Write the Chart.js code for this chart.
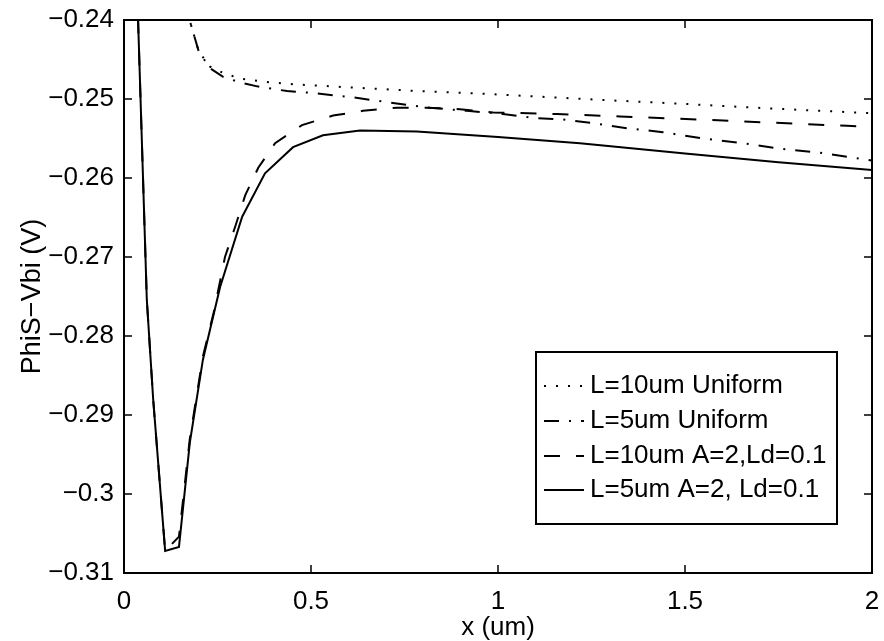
<!DOCTYPE html>
<html>
<head>
<meta charset="utf-8">
<script src="https://cdn.jsdelivr.net/npm/chart.js@4.4.1/dist/chart.umd.min.js"></script>
<style>
html,body{margin:0;padding:0;background:#fff;}
#wrap{width:884px;height:641px;}
</style>
</head>
<body>
<div id="wrap"><canvas id="c" width="884" height="641"></canvas></div>
<script>
// ---- data ----
const seriesLabels = ['L=10um Uniform', 'L=5um Uniform', 'L=10um A=2,Ld=0.1', 'L=5um A=2, Ld=0.1'];

const xU10 = [0.14, 0.176, 0.20, 0.23, 0.265, 0.31, 0.37, 0.44, 0.63, 0.79, 0.95, 1.11, 1.27, 1.49, 1.73, 2.0];
const yU10 = [-0.233, -0.2401, -0.2440, -0.2459, -0.2467, -0.2474, -0.2478, -0.2481, -0.2486, -0.2490, -0.2493, -0.2497, -0.2501, -0.2506, -0.2512, -0.2518];

const xU5 = [0.14, 0.176, 0.20, 0.23, 0.265, 0.31, 0.356, 0.436, 0.498, 0.613, 0.719, 0.818, 0.917, 1.013, 1.094, 1.174, 1.246, 1.345, 1.441, 1.548, 1.655, 1.754, 1.861, 1.96, 2.0];
const yU5 = [-0.233, -0.2401, -0.2440, -0.2461, -0.2472, -0.2479, -0.2484, -0.2490, -0.2492, -0.2498, -0.2505, -0.2511, -0.2515, -0.2519, -0.2524, -0.2526, -0.2530, -0.2537, -0.2542, -0.2550, -0.2556, -0.2563, -0.2568, -0.2575, -0.2578];

const xA10 = [0, 0.061, 0.078, 0.110, 0.147, 0.176, 0.211, 0.240, 0.270, 0.297, 0.324, 0.359, 0.404, 0.476, 0.559, 0.639, 0.730, 0.810, 0.898, 0.987, 1.158, 1.326, 1.588, 1.933, 2.0];
const yA10 = [-0.183, -0.2754, -0.2880, -0.3072, -0.3054, -0.2930, -0.2826, -0.2770, -0.2700, -0.2662, -0.2622, -0.2587, -0.2556, -0.2533, -0.2521, -0.2515, -0.2511, -0.2511, -0.2513, -0.2517, -0.2519, -0.2522, -0.2527, -0.2534, -0.2535];

const xA5 = [0, 0.061, 0.078, 0.110, 0.147, 0.176, 0.211, 0.257, 0.316, 0.377, 0.452, 0.532, 0.631, 0.783, 1.0, 1.219, 1.5, 1.75, 2.0];
const yA5 = [-0.183, -0.2754, -0.2880, -0.3072, -0.3067, -0.2935, -0.2830, -0.2738, -0.2649, -0.2594, -0.2561, -0.2546, -0.2540, -0.2541, -0.2548, -0.2556, -0.2569, -0.2580, -0.2590];

const xTicks = [0, 0.5, 1, 1.5, 2];
const xTickLabels = ['0', '0.5', '1', '1.5', '2'];
const yTicks = [-0.31, -0.30, -0.29, -0.28, -0.27, -0.26, -0.25, -0.24];
const yTickLabels = ['\u22120.31', '\u22120.3', '\u22120.29', '\u22120.28', '\u22120.27', '\u22120.26', '\u22120.25', '\u22120.24'];

const xTitle = 'x (um)';
const yTitle = 'PhiS\u2212Vbi (V)';

// ---- build ----
function pts(xs, ys){ return xs.map((x,i)=>({x:x, y:ys[i]})); }

const FONT = 'Liberation Sans, Arial, Helvetica, sans-serif';

const styles = [
  {dash:[2,10], cap:'butt'},
  {dash:[15,10,2,10], cap:'butt'},
  {dash:[16,16], cap:'butt'},
  {dash:[], cap:'butt'}
];
const xsAll = [xU10, xU5, xA10, xA5];
const ysAll = [yU10, yU5, yA10, yA5];

const datasets = seriesLabels.map((lab,i)=>({
  label: lab,
  data: pts(xsAll[i], ysAll[i]),
  showLine: true,
  borderColor: '#000',
  backgroundColor: '#000',
  borderWidth: 2,
  borderDash: styles[i].dash,
  borderCapStyle: styles[i].cap,
  pointRadius: 0,
  pointHoverRadius: 0,
  fill: false,
  tension: 0
}));

const framePlugin = {
  id: 'frame',
  afterDatasetsDraw(chart){
    const {ctx, chartArea:a, scales} = chart;
    ctx.save();
    ctx.strokeStyle = '#000';
    ctx.lineWidth = 2;
    ctx.setLineDash([]);
    ctx.strokeRect(a.left, a.top, a.right - a.left, a.bottom - a.top);
    const L = 8;
    ctx.lineWidth = 1.5;
    ctx.beginPath();
    scales.x.ticks.forEach(t=>{
      const px = scales.x.getPixelForValue(t.value);
      ctx.moveTo(px, a.bottom); ctx.lineTo(px, a.bottom - L);
      ctx.moveTo(px, a.top); ctx.lineTo(px, a.top + L);
    });
    scales.y.ticks.forEach(t=>{
      const py = scales.y.getPixelForValue(t.value);
      ctx.moveTo(a.left, py); ctx.lineTo(a.left + L, py);
      ctx.moveTo(a.right, py); ctx.lineTo(a.right - L, py);
    });
    ctx.stroke();

    // legend box
    const bx = 536, by = 352, bw = 301, bh = 172;
    ctx.fillStyle = '#fff';
    ctx.fillRect(bx, by, bw, bh);
    ctx.lineWidth = 2;
    ctx.strokeRect(bx, by, bw, bh);
    const rows = [386, 421, 456, 490];
    ctx.font = '26px ' + FONT;
    ctx.textBaseline = 'middle';
    ctx.textAlign = 'left';
    chart.data.datasets.forEach((ds,i)=>{
      const y = rows[i];
      ctx.save();
      ctx.lineWidth = ds.borderWidth;
      ctx.setLineDash(ds.borderDash);
      ctx.lineCap = ds.borderCapStyle;
      ctx.beginPath();
      ctx.moveTo(544, y); ctx.lineTo(584, y);
      ctx.stroke();
      ctx.restore();
      ctx.fillStyle = '#000';
      ctx.fillText(ds.label, 590, y);
    });
    ctx.restore();
  }
};

new Chart(document.getElementById('c'), {
  type: 'scatter',
  data: { datasets },
  options: {
    responsive: false,
    animation: false,
    devicePixelRatio: 1,
    layout: { padding: { left: 0, right: 12, top: 20, bottom: 0 } },
    plugins: { legend: { display: false }, tooltip: { enabled: false } },
    scales: {
      x: {
        type: 'linear', min: 0, max: 2,
        afterBuildTicks(s){ s.ticks = xTicks.map(v=>({value:v})); },
        afterFit(s){ s.height = 68; s.paddingLeft = 0; s.paddingRight = 0; },
        grid: { display: false, drawTicks: false },
        border: { display: false },
        ticks: {
          color: '#000', font: { family: FONT, size: 26 }, padding: 13, maxRotation: 0,
          callback: (v, i) => xTickLabels[i]
        },
        title: { display: true, text: xTitle, color: '#000', font: { family: FONT, size: 26, lineHeight: 1 }, padding: { top: 0, bottom: 0 } }
      },
      y: {
        type: 'linear', min: -0.31, max: -0.24,
        afterBuildTicks(s){ s.ticks = yTicks.map(v=>({value:v})); },
        afterFit(s){ s.width = 124; s.paddingTop = 0; s.paddingBottom = 0; },
        grid: { display: false, drawTicks: false },
        border: { display: false },
        ticks: {
          color: '#000', font: { family: FONT, size: 26 }, padding: 10,
          callback: (v, i) => yTickLabels[i]
        },
        title: { display: true, text: yTitle, color: '#000', font: { family: FONT, size: 27, lineHeight: 1 }, padding: { top: 19, bottom: 0 } }
      }
    }
  },
  plugins: [framePlugin]
});
</script>
</body>
</html>
